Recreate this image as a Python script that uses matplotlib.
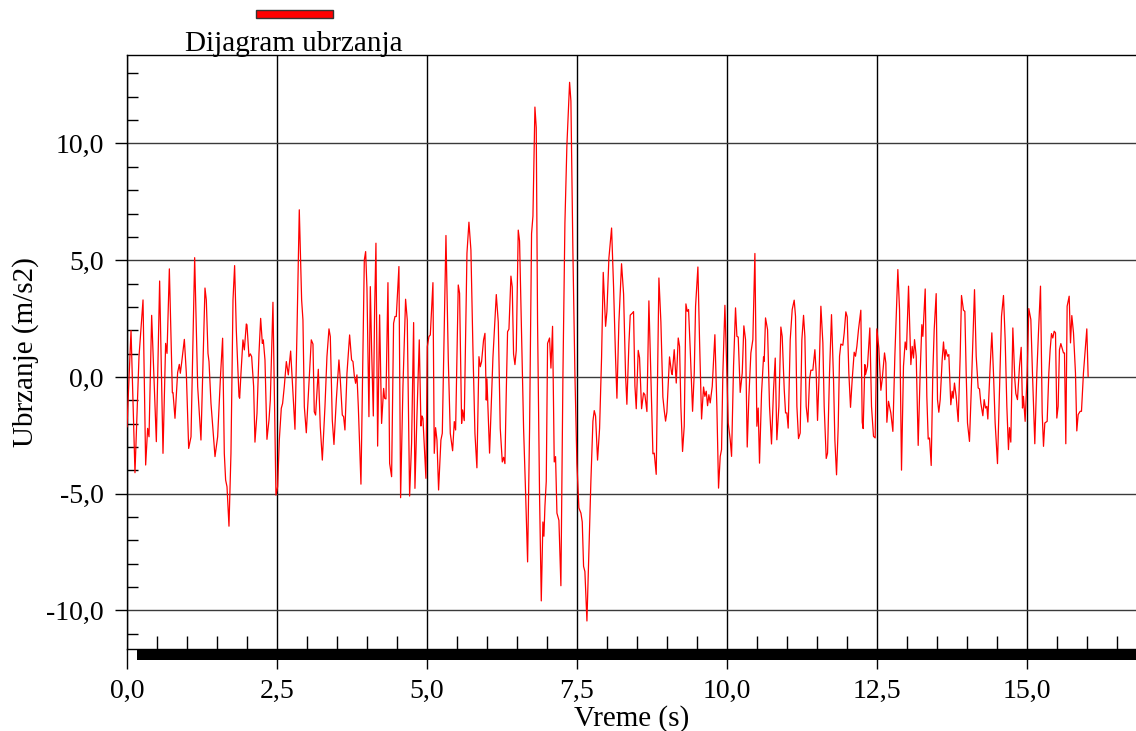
import matplotlib
matplotlib.use("Agg")
import matplotlib.pyplot as plt
from matplotlib.ticker import MultipleLocator, FuncFormatter
from matplotlib.patches import Rectangle

# ---------------- data (time in s, acceleration in m/s2) ----------------
t_0_2 = [0.000, 0.067, 0.133, 0.200, 0.267, 0.311, 0.344, 0.367, 0.411, 0.489,
         0.544, 0.600, 0.644, 0.667, 0.706, 0.756, 0.767, 0.800, 0.844, 0.872,
         0.889, 0.911, 0.956, 0.989, 1.028, 1.067, 1.128, 1.178, 1.233, 1.300,
         1.322, 1.350, 1.367, 1.400, 1.433, 1.467, 1.511, 1.561, 1.594, 1.622,
         1.644, 1.667, 1.700, 1.733, 1.767, 1.794, 1.822, 1.867, 1.878, 1.900,
         1.933, 1.956, 1.989]
a_0_2 = [-2.13, 1.99, -4.10, 0.87, 3.30, -3.77, -2.20, -2.56, 2.64, -2.77,
         4.11, -3.27, 1.44, 1.01, 4.63, -0.67, -0.67, -1.77, 0.19, 0.54,
         0.16, 0.61, 1.61, 0.16, -3.06, -2.56, 5.11, -0.41, -2.70, 3.81,
         3.30, 1.01, 0.66, -1.13, -2.27, -3.41, -2.56, 0.16, 1.66, -3.27,
         -4.41, -4.70, -6.39, -3.27, 3.30, 4.77, 2.01, -0.84, -0.91, 0.16,
         1.59, 1.16, 2.27]

t_2_4 = [2.000, 2.033, 2.056, 2.078, 2.111, 2.133, 2.167, 2.200, 2.228, 2.256,
         2.272, 2.300, 2.333, 2.367, 2.389, 2.433, 2.467, 2.483, 2.511, 2.539,
         2.572, 2.594, 2.622, 2.656, 2.689, 2.728, 2.761, 2.800, 2.833, 2.872,
         2.911, 2.933, 2.956, 2.989, 3.033, 3.072, 3.100, 3.122, 3.144, 3.189,
         3.222, 3.256, 3.300, 3.333, 3.367, 3.389, 3.422, 3.450, 3.489, 3.533,
         3.556, 3.589, 3.611, 3.633, 3.667, 3.711, 3.744, 3.767, 3.789, 3.811,
         3.833, 3.856, 3.900, 3.933, 3.956, 3.978]
a_2_4 = [2.23, 0.87, 0.99, 0.87, -0.41, -2.79, -1.56, 1.01, 2.51, 1.44,
         1.59, 0.73, -2.67, -1.84, -0.99, 3.20, -2.41, -5.06, -4.70, -2.70,
         -1.34, -1.13, -0.41, 0.66, 0.09, 1.11, -0.41, -2.24, 1.87, 7.16,
         3.30, 2.44, -1.27, -2.39, -0.27, 1.59, 1.41, -1.49, -1.63, 0.33,
         -2.13, -3.56, -1.27, 0.87, 2.06, 1.73, -1.84, -2.89, -0.99, 0.73,
         -0.13, -1.63, -1.70, -2.27, 0.16, 1.80, 0.73, 0.66, 0.06, -0.27,
         0.09, -1.27, -4.59, 1.16, 5.01, 5.37]

t_4_6 = [4.000, 4.033, 4.056, 4.078, 4.106, 4.128, 4.150, 4.178, 4.211, 4.244,
         4.278, 4.294, 4.317, 4.350, 4.378, 4.411, 4.444, 4.467, 4.489, 4.533,
         4.561, 4.600, 4.644, 4.672, 4.711, 4.744, 4.778, 4.800, 4.833, 4.872,
         4.900, 4.917, 4.933, 4.983, 5.006, 5.033, 5.056, 5.100, 5.122, 5.144,
         5.167, 5.194, 5.233, 5.256, 5.317, 5.356, 5.389, 5.428, 5.456, 5.478,
         5.522, 5.544, 5.578, 5.594, 5.622, 5.667, 5.700, 5.733, 5.767, 5.800,
         5.833, 5.867, 5.889, 5.911, 5.944, 5.967, 5.989]
a_4_6 = [3.80, -1.70, 3.87, 1.16, -1.67, 2.87, 5.73, -2.96, 2.66, -1.99,
         -0.49, -0.91, -0.94, 4.04, -3.70, -4.27, 2.30, 2.59, 2.59, 4.73,
         -5.17, -0.41, 3.33, 2.44, -5.10, -2.84, 2.33, -4.77, -1.70, 1.59,
         -2.10, -1.67, -1.77, -4.34, 1.30, 1.73, 1.80, 4.04, -3.27, -2.17,
         -2.70, -4.84, -2.70, -2.41, 6.06, 0.73, -2.41, -3.16, -1.91, -2.27,
         3.94, 3.59, -1.99, -1.41, -1.87, 5.30, 6.63, 5.44, 1.16, -2.41,
         -3.89, 0.87, 0.44, 0.66, 1.59, 1.87, -0.99]

t_6_9 = [6.000, 6.044, 6.100, 6.156, 6.189, 6.222, 6.256, 6.278, 6.300, 6.322,
         6.344, 6.367, 6.400, 6.422, 6.444, 6.467, 6.489, 6.522, 6.544, 6.578,
         6.611, 6.644, 6.678, 6.711, 6.744, 6.767, 6.800, 6.822, 6.844, 6.878,
         6.906, 6.933, 6.950, 6.967, 6.989, 7.011, 7.044, 7.067, 7.094, 7.122,
         7.144, 7.167, 7.200, 7.233, 7.267, 7.300, 7.333, 7.378, 7.400, 7.433,
         7.467, 7.500, 7.533, 7.567, 7.589, 7.611, 7.633, 7.667, 7.700, 7.733,
         7.767, 7.789, 7.811, 7.844, 7.878, 7.911, 7.939, 7.978, 8.000, 8.033,
         8.078, 8.111, 8.144, 8.167, 8.200, 8.244, 8.278, 8.311, 8.333, 8.367,
         8.389, 8.422, 8.444, 8.467, 8.489, 8.522, 8.544, 8.578, 8.611, 8.633,
         8.667, 8.700, 8.733, 8.767, 8.789, 8.822, 8.867, 8.900, 8.933, 8.956,
         8.978]
a_6_9 = [-0.08, -3.26, 0.83, 3.53, 2.35, -2.20, -3.64, -3.44, -3.71, -0.68,
         1.94, 2.05, 4.32, 3.86, 0.98, 0.53, 1.14, 6.29, 5.83, 1.74,
         -2.20, -4.92, -7.92, -2.20, 6.14, 6.89, 11.56, 10.68, 2.35, -5.23,
         -9.59, -6.21, -6.82, -5.53, -4.47, 1.44, 1.67, 0.38, 2.17, -3.64,
         -3.41, -5.83, -6.14, -8.94, 0.08, 6.59, 9.92, 12.62, 11.82, 5.38,
         0.08, -3.71, -5.61, -5.83, -6.21, -8.11, -8.33, -10.45, -7.50, -4.47,
         -1.89, -1.44, -1.67, -3.56, -2.20, 0.83, 4.48, 2.17, 2.80, 5.08,
         6.38, 3.86, 0.83, -0.91, 2.35, 4.85, 3.56, 0.08, -1.17, 1.44,
         2.65, 2.73, 2.80, -0.38, -1.36, 1.14, 0.83, -1.36, -0.68, -0.76,
         -1.48, 3.26, 0.08, -3.29, -3.26, -4.17, 4.24, 2.35, -0.86, -1.44,
         -1.89]

t_9_12 = [9.000, 9.044, 9.078, 9.089, 9.122, 9.156, 9.189, 9.211, 9.233, 9.261,
          9.289, 9.317, 9.339, 9.361, 9.389, 9.428, 9.456, 9.478, 9.517, 9.544,
          9.578, 9.611, 9.633, 9.656, 9.678, 9.700, 9.722, 9.756, 9.800, 9.833,
          9.861, 9.889, 9.911, 9.933, 9.967, 10.000, 10.022, 10.056, 10.078, 10.111,
          10.144, 10.167, 10.189, 10.222, 10.256, 10.283, 10.311, 10.339, 10.367, 10.400,
          10.433, 10.467, 10.500, 10.522, 10.544, 10.578, 10.611, 10.622, 10.644, 10.678,
          10.711, 10.744, 10.778, 10.806, 10.833, 10.867, 10.900, 10.922, 10.956, 10.978,
          11.000, 11.022, 11.056, 11.089, 11.122, 11.144, 11.167, 11.194, 11.222, 11.250,
          11.278, 11.300, 11.322, 11.350, 11.378, 11.400, 11.433, 11.467, 11.489, 11.511,
          11.533, 11.567, 11.600, 11.622, 11.656, 11.678, 11.711, 11.744, 11.778, 11.800,
          11.828, 11.856, 11.878, 11.900, 11.933, 11.956, 11.983, 12.006, 12.033, 12.061,
          12.089, 12.122, 12.144, 12.167, 12.194, 12.233, 12.256, 12.272, 12.300, 12.311,
          12.344, 12.383, 12.411, 12.444, 12.472]
a_9_12 = [-1.50, 0.86, 0.17, 0.10, 1.17, -0.26, 1.67, 1.31, -1.26, -3.19,
          -2.11, 3.13, 2.81, 2.89, 1.17, -1.47, 0.17, 3.03, 4.71, 1.60,
          -1.80, -0.43, -0.83, -0.61, -1.23, -0.76, -1.11, -0.40, 1.81, -1.26,
          -4.76, -3.40, -3.11, 0.17, 3.07, 0.17, -1.97, -2.69, -3.40, 0.46,
          2.96, 1.74, 1.71, -0.66, 0.17, 2.19, 1.60, -3.00, -0.83, 1.03,
          1.60, 5.29, -2.11, -1.33, -3.69, -0.69, 0.86, 0.67, 2.53, 2.03,
          -1.26, -2.87, -0.54, 0.81, -2.69, -1.26, 2.14, 1.74, -0.54, -1.54,
          -1.54, -2.19, 1.60, 2.89, 3.29, 2.60, -1.26, -2.64, -2.40, 1.60,
          2.64, 1.74, -1.26, -1.93, -0.11, 0.29, 0.29, 1.17, 0.17, -1.86,
          -0.26, 3.03, 1.46, -1.26, -3.49, -3.26, 0.17, 2.67, -0.11, -2.69,
          -4.19, -2.11, 0.89, 1.41, 1.36, 1.89, 2.79, 2.57, 0.17, -1.30,
          -0.11, 1.06, 0.89, 1.31, 2.03, 2.86, -1.94, -2.21, 0.53, 0.10,
          0.46, 2.10, -1.26, -2.54, -2.61]

t_12_16 = [12.500, 12.533, 12.567, 12.589, 12.628, 12.650, 12.667, 12.694, 12.733, 12.767,
           12.800, 12.850, 12.878, 12.911, 12.944, 12.972, 12.994, 13.028, 13.067, 13.089,
           13.111, 13.128, 13.156, 13.189, 13.222, 13.250, 13.267, 13.306, 13.333, 13.356,
           13.378, 13.406, 13.433, 13.456, 13.489, 13.511, 13.533, 13.556, 13.589, 13.611,
           13.633, 13.650, 13.678, 13.700, 13.733, 13.756, 13.772, 13.794, 13.822, 13.856,
           13.889, 13.911, 13.944, 13.967, 13.989, 14.011, 14.044, 14.078, 14.128, 14.156,
           14.189, 14.211, 14.233, 14.267, 14.289, 14.311, 14.333, 14.350, 14.389, 14.417,
           14.444, 14.472, 14.511, 14.544, 14.578, 14.611, 14.639, 14.667, 14.694, 14.711,
           14.733, 14.767, 14.800, 14.817, 14.844, 14.878, 14.906, 14.928, 14.944, 14.972,
           15.006, 15.033, 15.067, 15.094, 15.133, 15.167, 15.194, 15.228, 15.256, 15.278,
           15.300, 15.339, 15.367, 15.389, 15.411, 15.433, 15.456, 15.478, 15.500, 15.522,
           15.544, 15.567, 15.611, 15.628, 15.650, 15.672, 15.706, 15.728, 15.750, 15.778,
           15.811, 15.833, 15.856, 15.889, 15.911, 15.944, 16.000, 16.022]
a_12_16 = [2.06, 1.24, -0.57, -0.11, 1.03, 0.60, -1.94, -1.04, -1.54, -2.33,
           0.89, 4.60, 2.89, -3.99, 0.46, 1.50, 1.17, 3.89, 0.53, 1.31,
           0.81, 1.60, 0.89, -2.93, 0.17, 2.24, 1.74, 3.77, -0.83, -2.66,
           -2.61, -3.79, 0.17, 2.03, 3.57, -0.97, -1.51, -0.97, 0.74, 1.50,
           0.74, 1.17, 0.89, 0.96, -1.19, -0.61, -0.91, -0.26, -0.83, -1.91,
           0.89, 3.49, 2.86, 2.81, 0.17, -1.97, -2.76, -0.26, 3.74, 0.89,
           -0.47, -0.51, -1.11, -1.66, -0.97, -1.33, -1.26, -1.80, 0.46, 1.89,
           0.17, -1.97, -3.71, -0.54, 2.60, 3.49, 1.60, -1.26, -3.11, -2.17,
           -2.79, 2.10, -0.11, -0.71, -0.97, 0.46, 1.27, -1.33, -0.83, -1.90,
           0.17, 2.93, 2.46, 0.17, -2.86, 0.17, 1.89, 3.89, -1.54, -2.97,
           -1.97, -1.90, 0.17, 1.17, 1.86, 1.67, 1.96, 1.89, -1.76, -1.26,
           1.17, 1.43, 1.03, 1.03, -2.86, 3.03, 3.46, 1.46, 2.63, 1.89,
           0.17, -2.31, -1.61, -1.47, -1.47, 0.17, 2.06, 0.03]

series_label = "Dijagram ubrzanja"
x_label = "Vreme (s)"
y_label = "Ubrzanje (m/s2)"

time_s = t_0_2 + t_2_4 + t_4_6 + t_6_9 + t_9_12 + t_12_16
accel = a_0_2 + a_2_4 + a_4_6 + a_6_9 + a_9_12 + a_12_16

# ---------------- figure ----------------
plt.rcParams['font.family'] = ['Liberation Serif', 'DejaVu Serif']
FS = 20
FS_LABEL = 21

W, H = 1136, 731
fig = plt.figure(figsize=(W / 100, H / 100), dpi=100)
ax = fig.add_axes([127 / W, 82 / H, 1009 / W, 594 / H])

ax.plot(time_s, accel, color='#ff0000', lw=0.9, zorder=3)

ax.set_xlim(0, 16.82)
ax.set_ylim(-11.65, 13.79)

ax.xaxis.set_major_locator(MultipleLocator(2.5))
ax.xaxis.set_minor_locator(MultipleLocator(0.5))
ax.yaxis.set_major_locator(MultipleLocator(5))
ax.yaxis.set_minor_locator(MultipleLocator(1))
fmt = FuncFormatter(lambda v, p: f"{v:.1f}".replace('.', ','))
ax.xaxis.set_major_formatter(fmt)
ax.yaxis.set_major_formatter(fmt)

ax.grid(axis='x', which='major', color='black', lw=1.0, zorder=1)
ax.grid(axis='y', which='major', color='#3a3a3a', lw=1.0, zorder=1)
ax.set_axisbelow(True)

ax.tick_params(axis='x', which='major', direction='out', length=14.4, width=1.0,
               pad=7, labelsize=FS, top=False)
ax.tick_params(axis='x', which='minor', direction='in', length=9.5, width=1.0, top=False)
ax.tick_params(axis='y', which='major', direction='out', length=8.6, width=1.0,
               pad=8, labelsize=FS, right=False)
ax.tick_params(axis='y', which='minor', direction='in', length=8, width=1.0, right=False)

ax.spines['right'].set_visible(False)
for s in ('left', 'top', 'bottom'):
    ax.spines[s].set_linewidth(1.0)
    ax.spines[s].set_color('black')

# thick black bar under the plot area
ax.add_patch(Rectangle((10 / 1009, -11 / 594), 1 - 10 / 1009, 11 / 594,
                       transform=ax.transAxes, clip_on=False,
                       facecolor='black', edgecolor='none', zorder=5))

ax.set_xlabel(x_label, fontsize=FS_LABEL, labelpad=1)
ax.set_ylabel(y_label, fontsize=FS_LABEL, labelpad=5)

# legend (swatch above label)
fig.add_artist(Rectangle((256 / W, 1 - 18 / H), 77 / W, 8 / H,
                         transform=fig.transFigure, facecolor='#ff0000',
                         edgecolor='#333333', lw=1.0))
fig.text(294 / W, 1 - 44 / H, series_label, ha='center', va='center', fontsize=FS_LABEL)

fig.savefig('out.png', dpi=100)
